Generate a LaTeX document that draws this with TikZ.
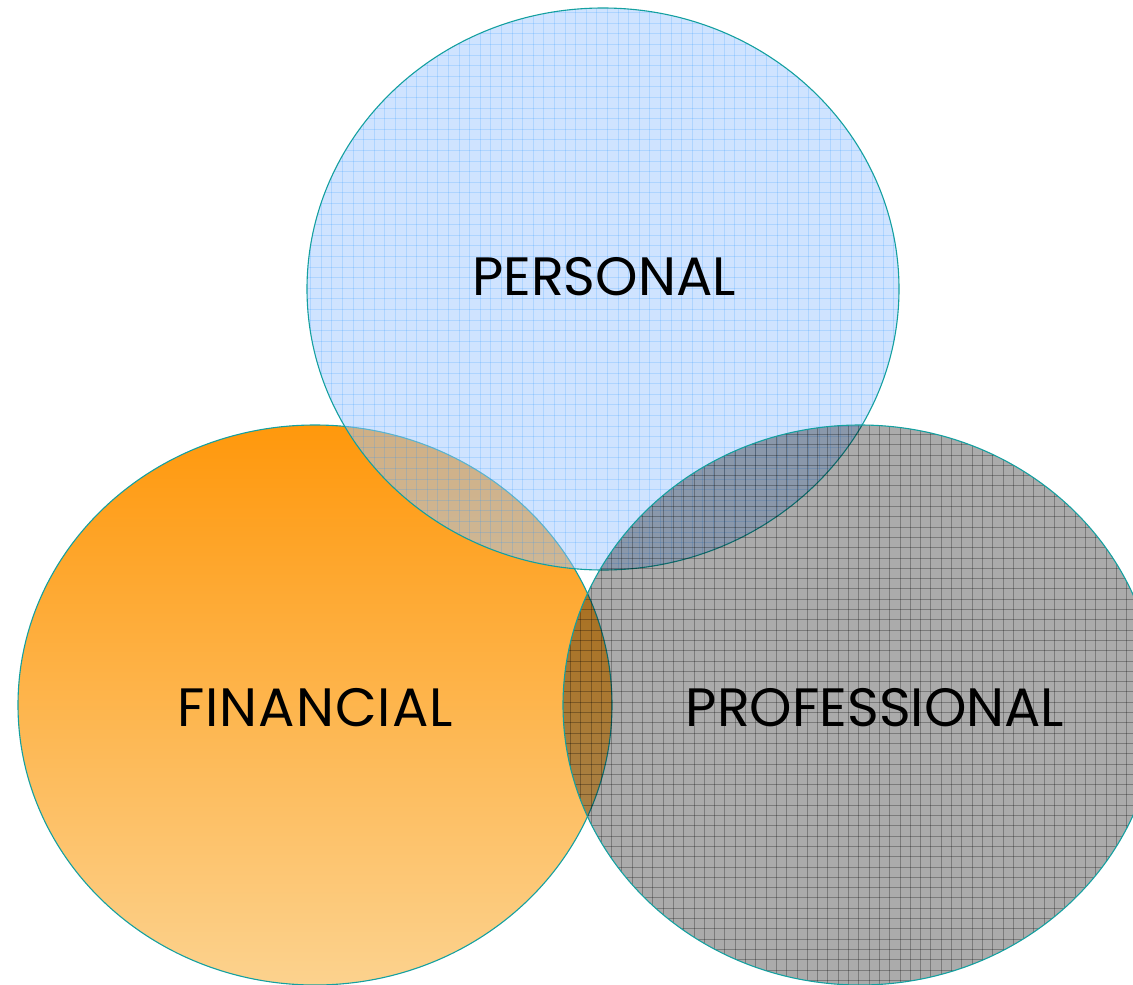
\documentclass[tikz,border=0pt]{standalone}
\usepackage{fontspec}
\setmainfont{Poppins}
\begin{document}
\begin{tikzpicture}[x=1pt,y=-1pt,
  outline/.style={draw=rimteal,line width=1.1pt},
  label/.style={font=\fontsize{54}{60}\selectfont,text=black,inner sep=0pt,anchor=center}]
\definecolor{rimteal}{RGB}{20,160,160}
\definecolor{skyfill}{RGB}{160,200,255}
\definecolor{skyline}{RGB}{40,150,255}
\definecolor{orangetop}{RGB}{255,152,12}
\definecolor{orangebot}{RGB}{252,210,142}
\useasboundingbox (0,0) rectangle (1133,985);
\clip (0,0) rectangle (1133,985);

% financial circle: orange gradient
\shade[top color=orangetop,bottom color=orangebot] (315,705) ellipse [x radius=297,y radius=280];
\draw[outline] (315,705) ellipse [x radius=297,y radius=280];

% personal circle: translucent blue with a fine grid
\fill[skyfill,fill opacity=0.5] (603,289) ellipse [x radius=296,y radius=281];
\begin{scope}
  \clip (603,289) ellipse [x radius=296,y radius=281];
  \foreach \k in {0,...,60} {
    \draw[skyline,draw opacity=0.2,line width=0.9pt] (300+10.6*\k,0) -- (300+10.6*\k,580);
    \draw[skyline,draw opacity=0.2,line width=0.9pt] (300,2+10.6*\k) -- (910,2+10.6*\k);
  }
\end{scope}
\draw[outline] (603,289) ellipse [x radius=296,y radius=281];

% professional circle: darkening grey with a dark grid
\fill[black,fill opacity=0.33] (860,705) ellipse [x radius=297,y radius=280];
\begin{scope}
  \clip (860,705) ellipse [x radius=297,y radius=280];
  \foreach \k in {0,...,60} {
    \draw[black,draw opacity=0.28,line width=0.8pt] (560+10.3*\k,420) -- (560+10.3*\k,990);
    \draw[black,draw opacity=0.28,line width=0.8pt] (560,424+10.3*\k) -- (1160,424+10.3*\k);
  }
\end{scope}
\draw[outline] (860,705) ellipse [x radius=297,y radius=280];

\node[label] (personal) at (604,277) {PERSONAL};
\node[label] (financial) at (315,708) {F\kern1ptI\kern1ptN\kern1ptA\kern1ptN\kern1ptC\kern1ptI\kern1ptA\kern1ptL};
\node[label] (professional) at (875,708) {PROFESSIONAL};
\end{tikzpicture}
\end{document}
